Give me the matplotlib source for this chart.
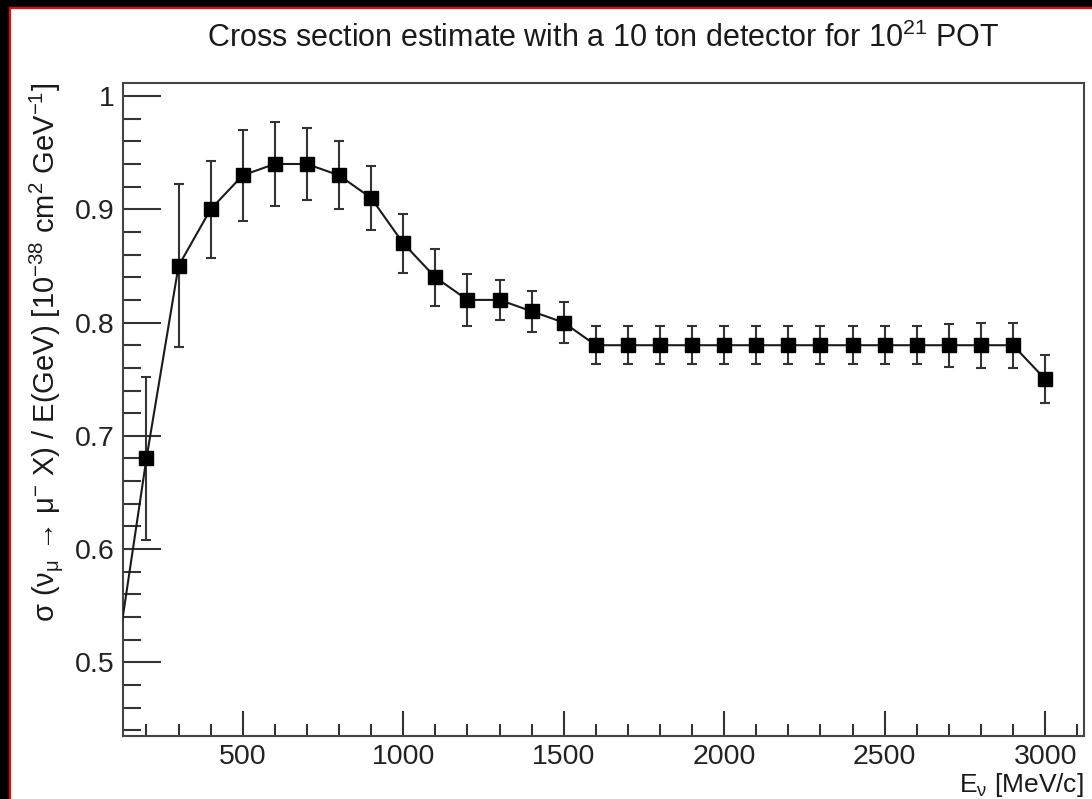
import numpy as np
import matplotlib.pyplot as plt
from matplotlib.patches import Rectangle
from matplotlib.ticker import MultipleLocator

plt.rcParams['font.family'] = ['Liberation Sans', 'DejaVu Sans']
plt.rcParams['mathtext.fontset'] = 'custom'
plt.rcParams['mathtext.rm'] = 'Liberation Sans'
plt.rcParams['mathtext.it'] = 'Liberation Sans:italic'
plt.rcParams['mathtext.bf'] = 'Liberation Sans:bold'

# energy bins [MeV/c]
energy = [100, 200, 300, 400, 500, 600, 700, 800, 900, 1000, 1100, 1200, 1300,
          1400, 1500, 1600, 1700, 1800, 1900, 2000, 2100, 2200, 2300, 2400,
          2500, 2600, 2700, 2800, 2900, 3000]
# cross section / E [1e-38 cm2 GeV-1]
xsec = [0.49, 0.68, 0.85, 0.90, 0.93, 0.94, 0.94, 0.93, 0.91, 0.87, 0.84, 0.82,
        0.82, 0.81, 0.80, 0.78, 0.78, 0.78, 0.78, 0.78, 0.78, 0.78, 0.78, 0.78,
        0.78, 0.78, 0.78, 0.78, 0.78, 0.75]
err = [0.09, 0.072, 0.072, 0.043, 0.040, 0.037, 0.032, 0.030, 0.028, 0.026,
       0.025, 0.023, 0.018, 0.018, 0.018, 0.017, 0.017, 0.017, 0.017, 0.017,
       0.017, 0.017, 0.017, 0.017, 0.017, 0.017, 0.019, 0.020, 0.020, 0.021]

fig = plt.figure(figsize=(10.92, 7.99), dpi=100, facecolor='black')
# white canvas with red frame (screenshot border)
fig.patches.append(Rectangle((10 / 1092, -0.02), 1.1, (799 - 8) / 799 + 0.02,
                             transform=fig.transFigure, facecolor='white',
                             edgecolor='red', linewidth=1.5, zorder=-10))

ax = fig.add_axes([123 / 1092, 63 / 799, 961 / 1092, 653 / 799])
ax.set_facecolor('white')

ax.errorbar(energy, xsec, yerr=err, fmt='none', ecolor='#333333',
            elinewidth=1.5, capsize=3.5, capthick=1.5, zorder=2)
ax.plot(energy, xsec, color='#1a1a1a', linewidth=1.5, marker='s',
        markersize=9.5, markerfacecolor='black', markeredgecolor='black',
        zorder=3)

ax.set_xlim(127, 3121)
ax.set_ylim(0.435, 1.0115)

ax.xaxis.set_major_locator(MultipleLocator(500))
ax.xaxis.set_minor_locator(MultipleLocator(100))
ax.yaxis.set_major_locator(MultipleLocator(0.1))
ax.yaxis.set_minor_locator(MultipleLocator(0.02))
ax.yaxis.set_major_formatter(plt.FuncFormatter(lambda v, p: f'{v:g}'))

ax.tick_params(axis='both', which='both', direction='in', colors='#333333',
               labelcolor='#222222', labelsize=20.5, width=1.5)
ax.tick_params(axis='y', which='major', length=27, pad=6)
ax.tick_params(axis='y', which='minor', length=13)
ax.tick_params(axis='x', which='major', length=18, pad=6)
ax.tick_params(axis='x', which='minor', length=9)

for s in ax.spines.values():
    s.set_color('#444444')
    s.set_linewidth(1.5)

ax.set_title(r'Cross section estimate with a 10 ton detector for 10$^{21}$ POT',
             fontsize=22, color='#1a1a1a', pad=26)
ax.set_xlabel(r'E$_{\mathrm{ν}}$ [MeV/c]', fontsize=19, color='#1a1a1a',
              loc='right')
ax.xaxis.set_label_coords(1.0, -0.054)
ax.set_ylabel(r'σ (ν$_{\mathrm{μ}}$ → μ$^{-}$ X) / E(GeV) '
              r'[10$^{-38}$ cm$^{2}$ GeV$^{-1}$]',
              fontsize=21, color='#1a1a1a', loc='top')
ax.yaxis.set_label_coords(-0.06, 1.0)

fig.savefig('out.png', dpi=100, facecolor=fig.get_facecolor())
